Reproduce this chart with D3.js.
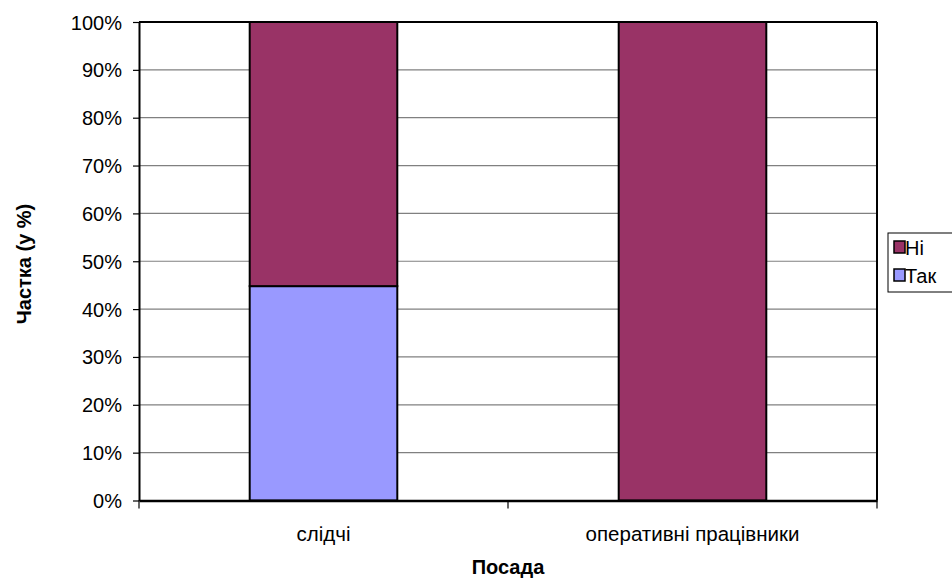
<!DOCTYPE html>
<html><head><meta charset="utf-8">
<script src="https://cdn.jsdelivr.net/npm/d3@7"></script>
<style>body{margin:0;background:#fff}svg{display:block}text{font-family:"Liberation Sans",Arial,sans-serif}</style>
</head><body><svg id="c" width="952" height="579"></svg>
<script>
const categories = ["слідчі", "оперативні працівники"];
const seriesNames = ["Так", "Ні"];
const takValues = [44.8, 0];
const niValues = [55.2, 100];
const colors = {"Так": "#9999FF", "Ні": "#993366"};
const yTicks = [0,10,20,30,40,50,60,70,80,90,100];

const svg = d3.select("#c");
const L = 139, R = 877, T = 22, B = 500.5;
const x = d3.scaleBand().domain(categories).range([L, R]).paddingInner(0).paddingOuter(0);
const y = d3.scaleLinear().domain([0,100]).range([B, T]);

// gridlines
svg.append("g").selectAll("line").data(yTicks.filter(d=>d>0)).join("line")
  .attr("x1", L).attr("x2", R).attr("y1", d=>y(d)).attr("y2", d=>y(d))
  .attr("stroke", "#808080").attr("stroke-width", 1.2);

const data = categories.map((c,i)=>({cat:c, "Так":takValues[i], "Ні":niValues[i]}));
const stack = d3.stack().keys(seriesNames)(data);
const bw = x.bandwidth()*0.4;
svg.append("g").selectAll("g").data(stack).join("g")
  .attr("fill", d=>colors[d.key])
  .selectAll("rect").data(d=>d.filter(p=>p[1]-p[0]>0)).join("rect")
  .attr("x", d=>x(d.data.cat)+(x.bandwidth()-bw)/2)
  .attr("width", bw)
  .attr("y", d=>y(d[1])).attr("height", d=>y(d[0])-y(d[1]))
  .attr("stroke", "#000").attr("stroke-width", 2);

// axes
const yAxis = d3.axisLeft(y).tickValues(yTicks).tickFormat(d=>d+"%").tickSize(6).tickSizeOuter(0);
const gy = svg.append("g").attr("transform", `translate(${L},0)`).call(yAxis);
gy.attr("font-size", null).attr("font-family", null);
gy.select(".domain").attr("stroke", "#000").attr("stroke-width", 2);
gy.selectAll(".tick line").attr("stroke", "#000").attr("stroke-width", 1.2);
gy.selectAll(".tick text").attr("font-size", 20).attr("fill", "#000").attr("x", -17).attr("dy", "0.35em");

const xAxis = d3.axisBottom(x).tickSize(0).tickSizeOuter(0);
const gx = svg.append("g").attr("transform", `translate(0,${B})`).call(xAxis);
gx.attr("font-size", null).attr("font-family", null);
gx.select(".domain").attr("stroke", "#000").attr("stroke-width", 2.5);
gx.selectAll(".tick text").attr("font-size", 20.5).attr("fill", "#000").attr("dy", 0).attr("y", 40);
// category separator ticks
svg.append("g").selectAll("line").data([...categories.map(c=>x(c)), R]).join("line")
  .attr("x1", d=>d).attr("x2", d=>d).attr("y1", B).attr("y2", B+8)
  .attr("stroke", "#000").attr("stroke-width", 1.2);
// right & top border
svg.append("line").attr("x1", R).attr("x2", R).attr("y1", T).attr("y2", B)
  .attr("stroke", "#000").attr("stroke-width", 2);
svg.append("line").attr("x1", L).attr("x2", R).attr("y1", T).attr("y2", T)
  .attr("stroke", "#000").attr("stroke-width", 2);

// titles
svg.append("text").attr("x", (L+R)/2).attr("y", 574).attr("text-anchor","middle")
  .attr("font-size", 20).attr("font-weight","bold").text("Посада");
svg.append("text").attr("transform", `translate(31,264) rotate(-90)`).attr("text-anchor","middle")
  .attr("font-size", 20).attr("font-weight","bold").text("Частка (у %)");

// legend
const lg = svg.append("g").attr("transform","translate(888,233)");
lg.append("rect").attr("x",0).attr("y",0).attr("width",70).attr("height",59)
  .attr("fill","#fff").attr("stroke","#000").attr("stroke-width",1);
["Ні","Так"].forEach((k,i)=>{
  const yy = 14 + i*28;
  lg.append("rect").attr("x",6).attr("y",yy-6).attr("width",11).attr("height",12)
    .attr("fill",colors[k]).attr("stroke","#000").attr("stroke-width",1.5);
  lg.append("text").attr("x",17).attr("y",yy+8).attr("font-size",20).text(k);
});
</script></body></html>
